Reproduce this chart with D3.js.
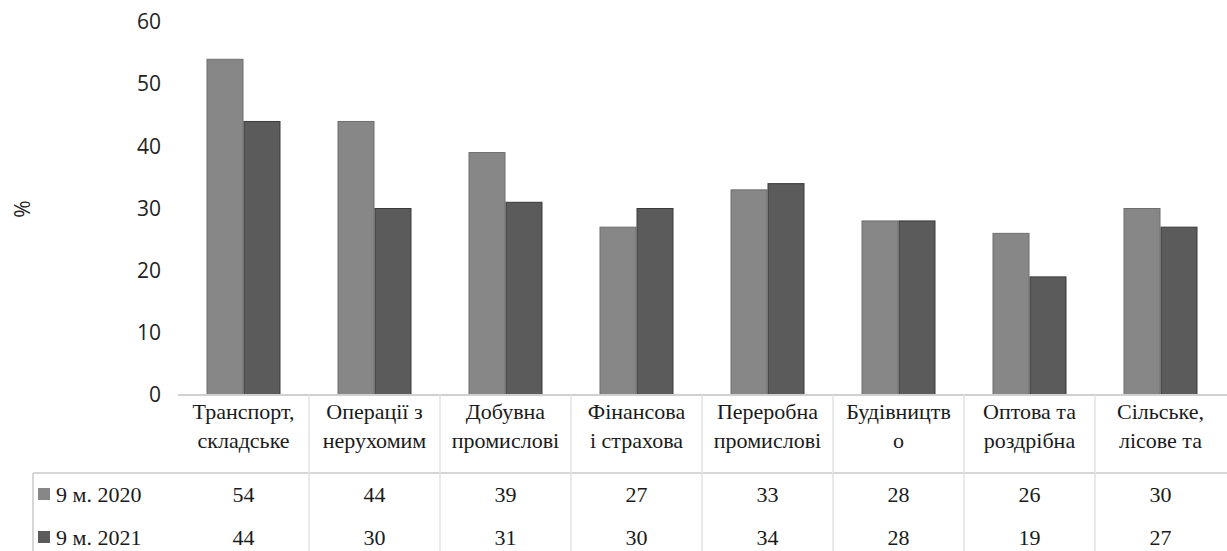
<!DOCTYPE html>
<html><head><meta charset="utf-8">
<script src="https://cdn.jsdelivr.net/npm/d3@7"></script>
<style>body{margin:0;background:#fff} .sf{font-family:"Liberation Serif","Tinos","DejaVu Serif","Noto Serif","FreeSerif","Times New Roman",Times,serif}</style>
</head><body>
<svg id="c" width="1227" height="551"></svg>
<script>
const categories = [
  ["Транспорт,", "складське"],
  ["Операції з", "нерухомим"],
  ["Добувна", "промислові"],
  ["Фінансова", "і страхова"],
  ["Переробна", "промислові"],
  ["Будівництв", "о"],
  ["Оптова та", "роздрібна"],
  ["Сільське,", "лісове та"]
];
const seriesNames = ["9 м. 2020", "9 м. 2021"];
const values2020 = [54, 44, 39, 27, 33, 28, 26, 30];
const values2021 = [44, 30, 31, 30, 34, 28, 19, 27];
const yTicks = [0, 10, 20, 30, 40, 50, 60];
const colors = ["#878787", "#5b5b5b"];
const strokes = ["#6e6e6e", "#3a3a3a"];

(function () {
const svg = d3.select("#c");
const plotLeft = 178, plotRight = 1226, plotTop = 22, zeroY = 395;
const y = d3.scaleLinear().domain([0, 60]).range([zeroY, plotTop]);
const x = d3.scaleBand().domain(d3.range(categories.length)).range([plotLeft, plotRight]);
const xs = d3.scaleBand().domain([0, 1]).range([0, 74]);
const series = [values2020, values2021];

const yAxis = d3.axisLeft(y).tickValues(yTicks).tickSize(0).tickPadding(0);
const ga = svg.append("g").attr("transform", "translate(161,0)").call(yAxis);
ga.select(".domain").remove();
ga.selectAll("text").attr("font-family", "'Open Sans', 'Liberation Sans', sans-serif")
  .attr("font-size", 21).attr("fill", "#222");

svg.append("text").attr("transform", "translate(22,209) rotate(-90)")
  .attr("text-anchor", "middle").attr("dominant-baseline", "central")
  .attr("font-family", "'Open Sans', sans-serif").attr("font-size", 21).attr("fill", "#222").text("%");

series.forEach((vals, si) => {
  svg.append("g").selectAll("rect").data(vals).join("rect")
    .attr("x", (d, i) => x(i) + (x.bandwidth() - 74) / 2 + xs(si) + 0.5)
    .attr("y", d => y(d))
    .attr("width", xs.bandwidth() - 1)
    .attr("height", d => zeroY - y(d))
    .attr("fill", colors[si]).attr("stroke", strokes[si]).attr("stroke-width", 1);
});

svg.append("line").attr("x1", plotLeft).attr("x2", 1227).attr("y1", zeroY).attr("y2", zeroY)
  .attr("stroke", "#d0d0d0").attr("stroke-width", 2);

const tableY = 473;
svg.append("line").attr("x1", 33).attr("x2", 1227).attr("y1", tableY).attr("y2", tableY)
  .attr("stroke", "#d6d6d6").attr("stroke-width", 2);
svg.append("line").attr("x1", 33).attr("x2", 33).attr("y1", tableY).attr("y2", 551)
  .attr("stroke", "#d6d6d6").attr("stroke-width", 2);
svg.append("g").selectAll("line").data(d3.range(1, categories.length)).join("line")
  .attr("x1", i => x(i)).attr("x2", i => x(i)).attr("y1", zeroY).attr("y2", 551)
  .attr("stroke", "#e2e2e2").attr("stroke-width", 1.5);

const cl = svg.append("g").selectAll("text").data(categories).join("text")
  .attr("class", "sf")
  .attr("x", (d, i) => x(i) + x.bandwidth() / 2)
  .attr("text-anchor", "middle").attr("font-size", 22).attr("fill", "#1a1a1a");
cl.selectAll("tspan").data(d => d).join("tspan")
  .attr("x", function() { return d3.select(this.parentNode).attr("x"); })
  .attr("y", (d, j) => 419 + j * 29).text(d => d);

const rowY = [502, 545];
series.forEach((vals, si) => {
  svg.append("rect").attr("x", 38).attr("y", rowY[si] - 14).attr("width", 12).attr("height", 12)
    .attr("fill", colors[si]);
  svg.append("text").attr("class", "sf").attr("x", 56).attr("y", rowY[si])
    .attr("font-size", 22).attr("fill", "#1a1a1a").text(seriesNames[si]);
  svg.append("g").selectAll("text").data(vals).join("text")
    .attr("class", "sf")
    .attr("x", (d, i) => x(i) + x.bandwidth() / 2).attr("y", rowY[si])
    .attr("text-anchor", "middle").attr("font-size", 22)
    .attr("fill", "#1a1a1a").text(d => d);
});
})();
</script>
</body></html>
